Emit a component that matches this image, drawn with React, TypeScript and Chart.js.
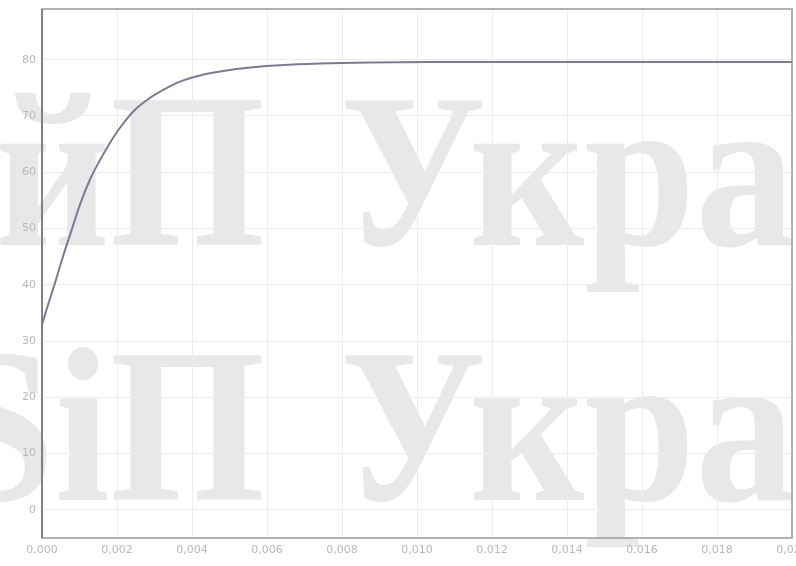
import { useEffect, useRef } from "react";
import { Chart, registerables } from "chart.js";

Chart.register(...registerables);

// time axis (ms) and response values
const timeMs = [0, 0.16, 0.35, 0.53, 0.75, 1.01, 1.28, 1.55, 1.81, 2.08, 2.48, 2.88, 3.28, 3.68, 4.21, 4.75, 5.55, 6.35, 7.41, 8.75, 10.35, 12.21, 14, 16, 18, 20];
const response = [32.9, 36.4, 40.4, 44.4, 48.9, 54.2, 58.7, 62.2, 65.2, 67.9, 71.1, 73.2, 74.8, 76.1, 77.2, 77.9, 78.6, 79.0, 79.3, 79.5, 79.6, 79.6, 79.6, 79.6, 79.6, 79.6];

const xTickValues = [0, 2, 4, 6, 8, 10, 12, 14, 16, 18, 20];
const xTickLabels = ["0,000", "0,002", "0,004", "0,006", "0,008", "0,010", "0,012", "0,014", "0,016", "0,018", "0,020"];
const yTickValues = [0, 10, 20, 30, 40, 50, 60, 70, 80];
const yTickLabels = ["0", "10", "20", "30", "40", "50", "60", "70", "80"];

const watermarkLeft = ["ійП", "SіП"];
const watermarkRight = ["Укра", "Укра"];

export default function App() {
  const ref = useRef<HTMLCanvasElement>(null);

  useEffect(() => {
    const canvas = ref.current;
    if (!canvas) return;

    const watermark = {
      id: "watermark",
      beforeDraw(chart: any) {
        const ctx = chart.ctx as CanvasRenderingContext2D;
        ctx.save();
        ctx.fillStyle = "#ffffff";
        ctx.fillRect(0, 0, chart.width, chart.height);
        ctx.fillStyle = "#e8e8e8";
        ctx.font = 'bold 220px "Liberation Serif", "DejaVu Serif", serif';
        ctx.textBaseline = "alphabetic";
        const baselines = [245, 500];
        for (let i = 0; i < 2; i++) {
          const w = ctx.measureText(watermarkRight[i]).width;
          const sx = 455 / w;
          ctx.save();
          ctx.translate(340, baselines[i]);
          ctx.scale(sx, 1);
          ctx.textAlign = "left";
          ctx.fillText(watermarkRight[i], 0, 0);
          ctx.restore();
          ctx.save();
          ctx.translate(265, baselines[i]);
          ctx.scale(sx, 1);
          ctx.textAlign = "right";
          ctx.fillText(watermarkLeft[i], 0, 0);
          ctx.restore();
        }
        ctx.restore();
      },
    };

    const frame = {
      id: "frame",
      beforeDatasetsDraw(chart: any) {
        const { left, top, right, bottom } = chart.chartArea;
        const ctx = chart.ctx as CanvasRenderingContext2D;
        ctx.save();
        ctx.strokeStyle = "#9a9a9a";
        ctx.lineWidth = 1.5;
        ctx.strokeRect(left, top, right - left, bottom - top);
        ctx.strokeStyle = "#808080";
        ctx.lineWidth = 2;
        ctx.beginPath();
        ctx.moveTo(left, top);
        ctx.lineTo(left, bottom);
        ctx.stroke();
        ctx.restore();
      },
    };

    const chart = new Chart(canvas, {
      type: "line",
      data: {
        datasets: [
          {
            data: timeMs.map((t, i) => ({ x: t, y: response[i] })),
            borderColor: "#7c7a92",
            borderWidth: 2,
            pointRadius: 0,
            cubicInterpolationMode: "monotone",
            fill: false,
          },
        ],
      },
      options: {
        animation: false,
        responsive: false,
        layout: { padding: { top: 9, right: 4, left: 0, bottom: 0 } },
        plugins: { legend: { display: false }, tooltip: { enabled: false } },
        scales: {
          x: {
            type: "linear",
            min: 0,
            max: 20,
            afterBuildTicks: (s: any) => {
              s.ticks = xTickValues.map((v) => ({ value: v }));
            },
            afterFit: (s: any) => {
              s.height = 28;
              s.paddingLeft = 0;
              s.paddingRight = 0;
            },
            ticks: {
              autoSkip: false,
              maxRotation: 0,
              padding: 6,
              color: "#b8b8b8",
              font: { size: 11, family: "DejaVu Sans" },
              callback: (_v: any, i: number) => xTickLabels[i],
            },
            grid: { color: "#ececec", lineWidth: 1, drawTicks: false },
            border: { display: false },
          },
          y: {
            type: "linear",
            min: -5,
            max: 89,
            afterBuildTicks: (s: any) => {
              s.ticks = yTickValues.map((v) => ({ value: v }));
            },
            afterFit: (s: any) => {
              s.width = 42;
              s.paddingTop = 0;
              s.paddingBottom = 0;
            },
            ticks: {
              autoSkip: false,
              padding: 6,
              color: "#b8b8b8",
              font: { size: 11, family: "DejaVu Sans" },
              callback: (_v: any, i: number) => yTickLabels[i],
            },
            grid: { color: "#ececec", lineWidth: 1, drawTicks: false },
            border: { display: false },
          },
        },
      },
      plugins: [watermark, frame],
    });

    return () => chart.destroy();
  }, []);

  return (
    <div style={{ position: "absolute", left: 0, top: 0, width: 796, height: 566 }}>
      <canvas ref={ref} width={796} height={566} />
    </div>
  );
}
